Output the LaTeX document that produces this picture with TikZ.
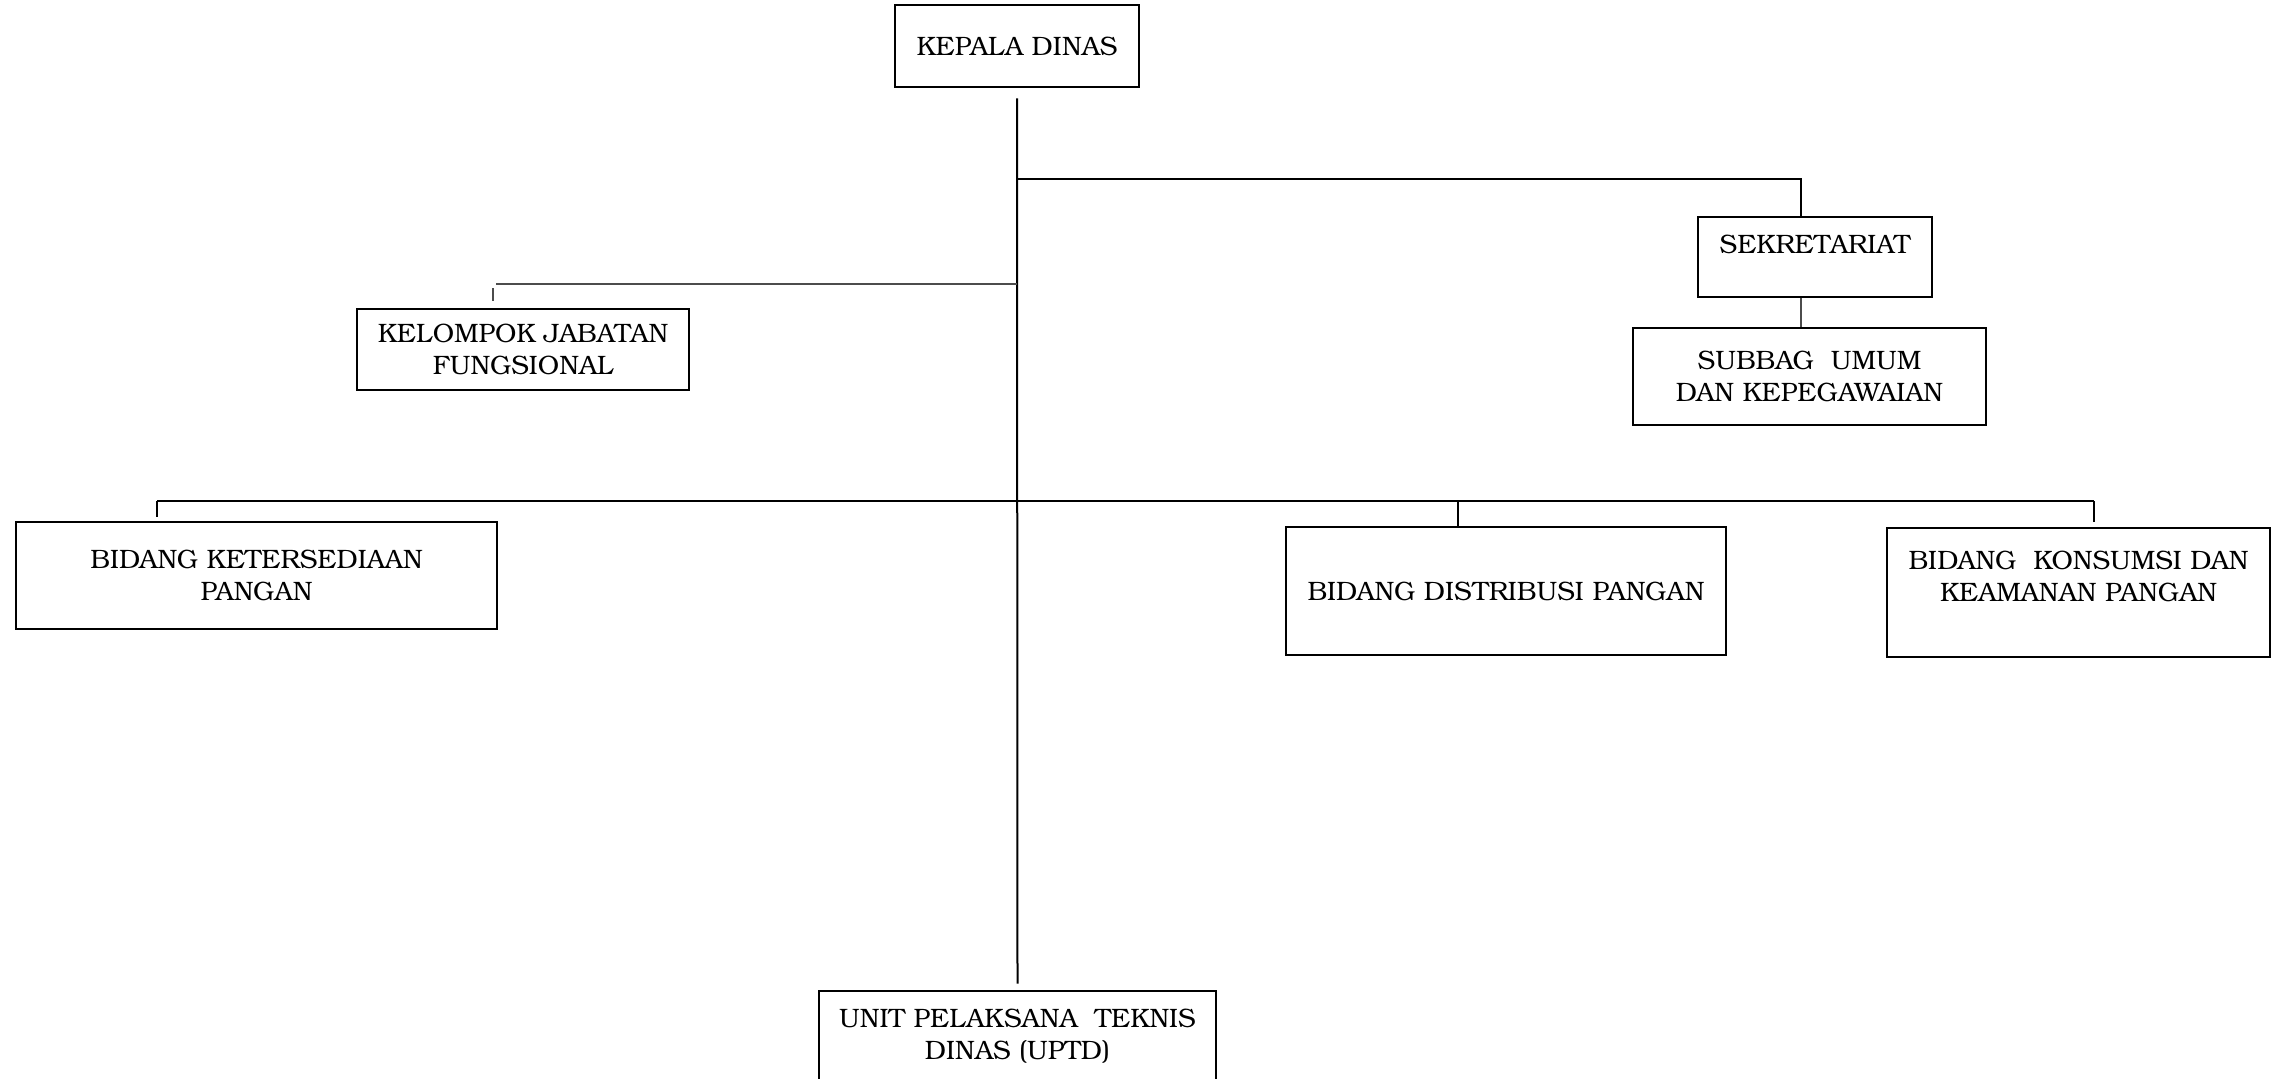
\documentclass[tikz,border=0pt]{standalone}
\usepackage{fontspec}
\setmainfont{texgyrebonum-regular.otf}
\begin{document}
\begin{tikzpicture}[x=0.5pt,y=-0.5pt,
  unitbox/.style={draw=black,line width=1.4pt,rectangle,inner sep=0pt,
    align=center,font=\fontsize{13.3}{16}\selectfont},
  link/.style={draw=black,line width=1pt},
  sublink/.style={draw=black!70,line width=0.75pt}]
\useasboundingbox (0,0) rectangle (2285,1078);

% units
\node[unitbox,minimum width=122pt,minimum height=41pt] (kepala) at (1017,46) {KEPALA DINAS};
\node[unitbox,minimum width=117pt,minimum height=40pt] (sek) at (1815,257) {SEKRETARIAT\\[-3pt]~};
\node[unitbox,minimum width=176.5pt,minimum height=48.5pt] (subbag) at (1809.5,376.5) {SUBBAG\ \ UMUM\\DAN KEPEGAWAIAN};
\node[unitbox,minimum width=166pt,minimum height=40.5pt] (kelompok) at (523,349.5) {KELOMPOK JABATAN\\FUNGSIONAL};
\node[unitbox,minimum width=240.5pt,minimum height=53.5pt] (keter) at (256.5,575.5) {BIDANG KETERSEDIAAN\\PANGAN};
\node[unitbox,minimum width=220pt,minimum height=64pt] (distr) at (1506,591) {BIDANG DISTRIBUSI PANGAN};
\node[unitbox,minimum width=191.5pt,minimum height=64.5pt] (kons) at (2078.5,592.5) {BIDANG\ \ KONSUMSI DAN\\KEAMANAN PANGAN\\~};
\node[unitbox,minimum width=198.5pt,minimum height=45.5pt] (uptd) at (1017.5,1036.5) {UNIT PELAKSANA\ \ TEKNIS\\DINAS (UPTD)};

% junctions on the main line
\coordinate (jsek) at (kepala.south |- 0,179);
\coordinate (jkel) at (kepala.south |- 0,284);
\coordinate (jbid) at (kepala.south |- 0,501);

% main vertical line
\draw[link,shorten <=5pt,shorten >=3pt] (kepala.south) -- (uptd.north);

% secretariat branch
\coordinate (sekc) at (1801,179);
\draw[link] (jsek) -- (sekc) -- (sekc |- sek.north);
\draw[sublink] (sekc |- sek.south) -- (sekc |- subbag.north);

% functional group branch
\coordinate (kelc) at (496,284);
\coordinate (kelt) at (493,288);
\draw[sublink] (jkel) -- (kelc);
\draw[sublink,shorten >=3.5pt] (kelt) -- (kelt |- kelompok.north);

% divisions bus
\coordinate (keterc) at (157,501);
\coordinate (distrc) at (1458,501);
\coordinate (konsc) at (2094,501);
\draw[link] (keterc) -- (konsc);
\draw[link,shorten >=2pt] (keterc) -- (keterc |- keter.north);
\draw[link] (distrc) -- (distrc |- distr.north);
\draw[link,shorten >=2.5pt] (konsc) -- (konsc |- kons.north);
\end{tikzpicture}
\end{document}
